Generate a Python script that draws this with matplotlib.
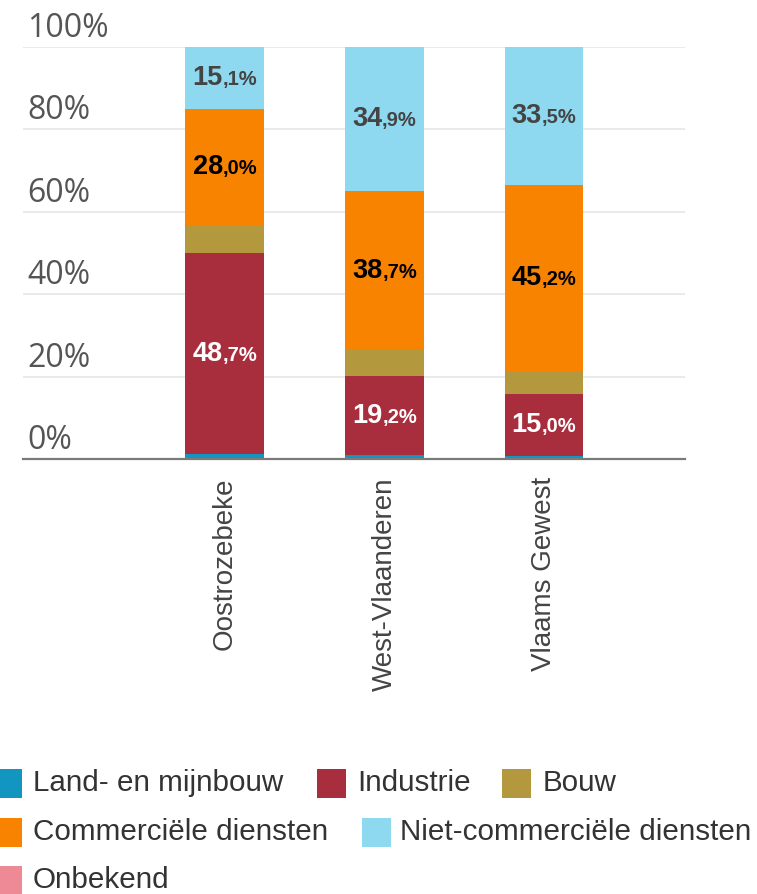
import matplotlib
matplotlib.use("Agg")
import matplotlib.pyplot as plt
import matplotlib.transforms as mtransforms
from matplotlib.offsetbox import TextArea, HPacker, AnnotationBbox
from matplotlib.patches import Rectangle

# ---- data ----
categories = ["Oostrozebeke", "West-Vlaanderen", "Vlaams Gewest"]
series_names = ["Land- en mijnbouw", "Industrie", "Bouw",
                "Commerciële diensten", "Niet-commerciële diensten", "Onbekend"]
land = [1.2, 0.9, 0.8]
industrie = [48.7, 19.2, 15.0]
bouw = [7.0, 6.3, 5.5]
commercieel = [28.0, 38.7, 45.2]
niet_commercieel = [15.1, 34.9, 33.5]
onbekend = [0.0, 0.0, 0.0]
yticks = [0, 20, 40, 60, 80, 100]
ytick_labels = ["0%", "20%", "40%", "60%", "80%", "100%"]

series = [land, industrie, bouw, commercieel, niet_commercieel, onbekend]
colors = ["#1395c2", "#a82e3e", "#b4983d", "#f88300", "#8ed9f0", "#ed8a96"]
label_colors = [None, "#ffffff", None, "#000000", "#444444", None]

W, H = 757, 894
fig = plt.figure(figsize=(W / 100, H / 100), dpi=100)

def fx(px):
    return px / W

def fy(py):
    return 1 - py / H

ax_l, ax_r, ax_t, ax_b = 23, 685, 47, 459
ax = fig.add_axes([fx(ax_l), fy(ax_b), fx(ax_r - ax_l), (ax_b - ax_t) / H])

x = list(range(len(categories)))
bar_w = 0.495
bottoms = [0.0] * len(categories)
for vals, col, lc in zip(series, colors, label_colors):
    ax.bar(x, vals, bottom=bottoms, width=bar_w, color=col, edgecolor="none", zorder=2)
    if lc is not None:
        for i, v in enumerate(vals):
            if v >= 10:
                s = f"{v:.1f}".replace(".", ",")
                ip, dp = s.split(",")
                big = TextArea(ip, textprops=dict(fontsize=19.5, fontweight="bold",
                                                  color=lc, family="Liberation Sans"))
                small = TextArea("," + dp + "%", textprops=dict(fontsize=14.5, fontweight="bold",
                                                                color=lc, family="Liberation Sans"))
                box = HPacker(children=[big, small], align="baseline", pad=0, sep=0)
                ab = AnnotationBbox(box, (i, bottoms[i] + v / 2), frameon=False,
                                    box_alignment=(0.5, 0.5), pad=0, zorder=5)
                ax.add_artist(ab)
    bottoms = [b + v for b, v in zip(bottoms, vals)]

xmin = -1.266
xmax = 2.884
ax.set_xlim(xmin, xmax)
ax.set_ylim(0, 100)

for s in ["top", "right", "left"]:
    ax.spines[s].set_visible(False)
ax.spines["bottom"].set_color("#7a7a7a")
ax.spines["bottom"].set_linewidth(1.6)
ax.spines["bottom"].set_zorder(6)

ax.set_yticks(yticks)
ax.set_yticklabels([])
ax.tick_params(axis="y", length=0)
ax.yaxis.grid(True, color="#e6e6e6", linewidth=1.2, zorder=0)
ax.set_axisbelow(True)

trans = mtransforms.blended_transform_factory(ax.transAxes, ax.transData)
off = mtransforms.ScaledTranslation(4 / 100, 10 / 100, fig.dpi_scale_trans)
for v, lab in zip(yticks, ytick_labels):
    ax.text(0, v, lab, transform=trans + off, ha="left", va="baseline",
            fontsize=23, color="#555555", family="Open Sans", zorder=1)

ax.set_xticks(x)
ax.set_xticklabels(categories, rotation=90, fontsize=20, color="#444444",
                   family="Liberation Sans")
ax.tick_params(axis="x", length=0, pad=13)

# ---- legend (flow layout, pixel positions) ----
legend_items = [
    (0, -7, 33, 783),
    (1, 317, 357, 783),
    (2, 502, 543, 783),
    (3, -7, 33, 832),
    (4, 362, 400, 832),
    (5, -7, 33, 880),
]
pw, ph = 29, 29
for idx, px, tx, cy in legend_items:
    fig.patches.append(Rectangle((fx(px), fy(cy + ph / 2)), pw / W, ph / H,
                                 transform=fig.transFigure, facecolor=colors[idx],
                                 edgecolor="none"))
    fig.text(fx(tx), fy(cy), series_names[idx], ha="left", va="center",
             fontsize=21.3, color="#333333", family="Liberation Sans")

fig.savefig("out.png", dpi=100)
